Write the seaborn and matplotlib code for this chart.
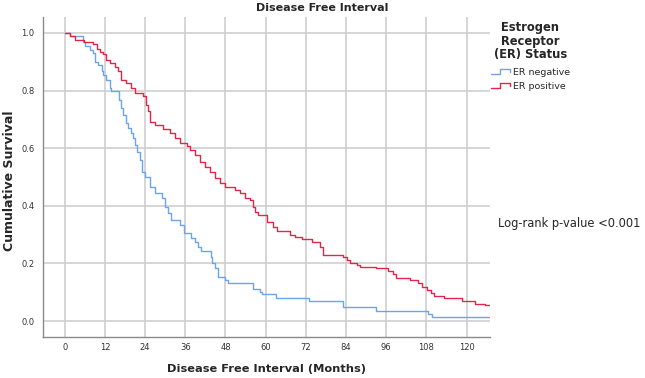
import numpy as np
import pandas as pd
import matplotlib
matplotlib.use("Agg")
import matplotlib.pyplot as plt
import seaborn as sns
from matplotlib.lines import Line2D
from matplotlib.legend_handler import HandlerBase

# Kaplan-Meier steps (months, cumulative survival)
neg_time = [0, 1.5, 5.3, 6.0, 7.5, 8.4, 9.0, 9.9, 11.0, 11.4, 12.4, 13.4, 13.9,
            16.2, 16.7, 17.4, 18.4, 18.9, 19.7, 20.4, 20.9, 21.6, 22.4, 23.2,
            23.9, 25.4, 26.9, 29.0, 29.9, 30.8, 31.8, 34.3, 35.6, 37.8, 38.8,
            39.8, 40.8, 43.6, 44.1, 44.8, 45.8, 47.8, 48.7, 56.2, 58.2, 59.0,
            63.2, 73.0, 83.1, 93.0, 108.6, 109.8, 127]
neg_surv = [1.0, 0.99, 0.97, 0.954, 0.942, 0.93, 0.9, 0.89, 0.867, 0.855, 0.838,
            0.81, 0.80, 0.768, 0.74, 0.714, 0.688, 0.67, 0.653, 0.635, 0.61,
            0.585, 0.56, 0.518, 0.50, 0.466, 0.443, 0.426, 0.397, 0.374, 0.35,
            0.333, 0.305, 0.287, 0.275, 0.258, 0.244, 0.223, 0.2, 0.183, 0.154,
            0.142, 0.131, 0.113, 0.102, 0.094, 0.082, 0.069, 0.048, 0.036,
            0.024, 0.013, 0.013]

pos_time = [0, 1.5, 3.0, 5.7, 8.4, 9.5, 10.4, 11.3, 12.4, 13.4, 14.9, 15.8,
            16.9, 18.4, 19.9, 20.9, 23.3, 24.2, 24.8, 25.4, 26.9, 29.3, 31.3,
            32.8, 34.3, 36.4, 37.3, 38.8, 40.3, 41.8, 43.3, 44.8, 46.3, 47.8,
            50.7, 52.2, 53.7, 55.2, 56.1, 56.7, 57.6, 60.3, 62.1, 63.3, 67.2,
            68.7, 71.0, 73.7, 76.1, 77.0, 83.0, 84.2, 85.1, 87.2, 88.1, 93.0,
            96.4, 97.9, 98.8, 103.0, 105.4, 106.6, 108.1, 109.5, 110.4, 113.4,
            118.5, 122.4, 125.4, 127]
pos_surv = [1.0, 0.99, 0.976, 0.967, 0.96, 0.945, 0.934, 0.925, 0.907, 0.896,
            0.88, 0.868, 0.838, 0.826, 0.81, 0.79, 0.78, 0.75, 0.73, 0.69, 0.68,
            0.667, 0.653, 0.635, 0.618, 0.609, 0.594, 0.576, 0.553, 0.536,
            0.518, 0.497, 0.479, 0.465, 0.455, 0.444, 0.427, 0.42, 0.397, 0.38,
            0.368, 0.345, 0.327, 0.3125, 0.299, 0.293, 0.284, 0.275, 0.258,
            0.229, 0.221, 0.212, 0.202, 0.194, 0.189, 0.183, 0.175, 0.165,
            0.15, 0.142, 0.131, 0.119, 0.108, 0.096, 0.088, 0.079, 0.07,
            0.059, 0.055, 0.055]

groups = ["ER negative", "ER positive"]
colors = {"ER negative": "#6aa6f0", "ER positive": "#e2264a"}
x_ticks = [0, 12, 24, 36, 48, 60, 72, 84, 96, 108, 120]
y_ticks = [0.0, 0.2, 0.4, 0.6, 0.8, 1.0]

df = pd.concat([
    pd.DataFrame({"time": neg_time, "surv": neg_surv, "group": groups[0]}),
    pd.DataFrame({"time": pos_time, "surv": pos_surv, "group": groups[1]}),
])

sns.set_style("white")
plt.rcParams["font.family"] = ["DejaVu Sans"]

fig = plt.figure(figsize=(6.45, 3.78), dpi=100)
ax = fig.add_axes([43 / 645, 41 / 378, 447 / 645, 320 / 378])

sns.lineplot(data=df, x="time", y="surv", hue="group", palette=colors,
             estimator=None, drawstyle="steps-post", linewidth=1.0,
             legend=False, ax=ax)

ax.set_xlim(-6.5, 127)
ax.set_ylim(-0.055, 1.055)
ax.set_xticks(x_ticks)
ax.set_yticks(y_ticks)
ax.set_yticklabels([f"{v:.1f}" for v in y_ticks])
ax.grid(True, color="#cfcfcf", linewidth=1.2)
ax.set_axisbelow(True)
ax.tick_params(length=0, labelsize=6, colors="#333333")
ax.tick_params(axis="x", pad=4)
ax.tick_params(axis="y", pad=6)
for side in ["top", "right"]:
    ax.spines[side].set_visible(False)
for side in ["left", "bottom"]:
    ax.spines[side].set_color("#8a8a8a")
    ax.spines[side].set_linewidth(1.0)

ax.set_xlabel("Disease Free Interval (Months)", fontsize=8.2,
              fontweight="bold", va="center")
ax.set_ylabel("Cumulative Survival", fontsize=9, fontweight="bold",
              va="center")
ax.xaxis.set_label_coords(0.5, -0.1)
ax.yaxis.set_label_coords(-0.074, 0.4875)
fig.text(0.5, 1 - 8 / 378, "Disease Free Interval", ha="center", va="center",
         fontsize=8, fontweight="bold")
fig.text(498 / 645, 1 - 223 / 378, "Log-rank p-value <0.001", ha="left",
         va="center", fontsize=8.3)


class StepHandler(HandlerBase):
    def create_artists(self, legend, orig_handle, xdescent, ydescent, width,
                       height, fontsize, trans):
        xs = np.array([0, 0.45, 0.45, 1.0, 1.0]) * width - xdescent
        ys = np.array([0.15, 0.15, 0.85, 0.85, 0.4]) * height - ydescent
        line = Line2D(xs, ys, color=orig_handle.get_color(),
                      linewidth=orig_handle.get_linewidth())
        line.set_transform(trans)
        return [line]


handles = [Line2D([], [], color=colors[g], linewidth=1.0) for g in groups]
leg = ax.legend(handles, groups, loc="upper left",
                bbox_to_anchor=(491 / 645, 1 - 21 / 378),
                bbox_transform=fig.transFigure, frameon=False,
                title="Estrogen\nReceptor\n(ER) Status",
                title_fontproperties={"weight": "bold", "size": 8.3},
                fontsize=6.8, handlelength=2.0, handletextpad=0.3,
                borderaxespad=0, borderpad=0, labelspacing=0.5,
                handler_map={Line2D: StepHandler()})
leg.get_title().set_linespacing(1.05)
leg.get_title().set_multialignment("center")
leg._legend_box.sep = 5

fig.savefig("out.png", dpi=100)
